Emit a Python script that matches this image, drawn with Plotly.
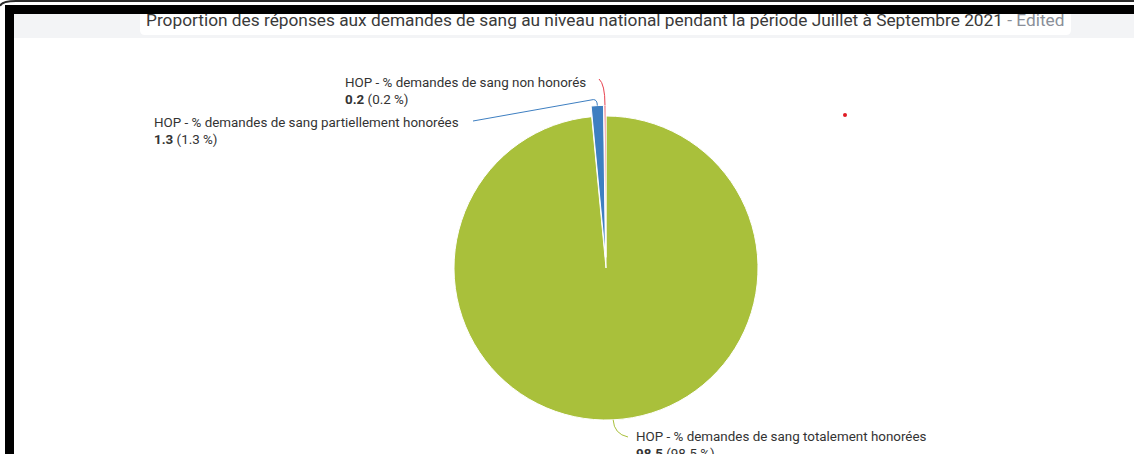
import numpy as np
import plotly.graph_objects as go

W, H = 1134, 454

# Data
labels = [
    "HOP - % demandes de sang totalement honorées",
    "HOP - % demandes de sang partiellement honorées",
    "HOP - % demandes de sang non honorés",
]
values = [98.5, 1.3, 0.2]
colors = ["#a9c03b", "#3e7fc1", "#e8414e"]
pulls = [0.0, 0.07, 0.07]

title_main = ("Proportion des réponses aux demandes de sang au niveau national "
              "pendant la période Juillet à Septembre 2021")
title_suffix = "- Edited"

# Pie geometry (pixels)
cx, cy, R = 606, 268, 152
max_pull = max(pulls)
half = R * (1 + max_pull)


def px(x):
    return x / W


def py(y):
    return 1 - y / H


fig = go.Figure()
fig.add_trace(go.Pie(
    labels=labels,
    values=values,
    sort=False,
    direction="clockwise",
    rotation=0,
    pull=pulls,
    textinfo="none",
    hoverinfo="label+value+percent",
    marker=dict(colors=colors, line=dict(color="white", width=1)),
    domain=dict(x=[px(cx - half), px(cx + half)], y=[py(cy + half), py(cy - half)]),
    showlegend=False,
))

# Slice mid-angle edge points (clockwise from 12 o'clock)
total = sum(values)
cum = np.cumsum(values)
edge = []
for v, c, p in zip(values, cum, pulls):
    th = np.deg2rad((c - v / 2) / total * 360)
    r = R * (1 + p)
    edge.append((cx + r * np.sin(th), cy - r * np.cos(th)))

# Label placement: (left x, vertical centre y, connector start, connector control)
label_pos = [
    (634, 445, (628, 437), (614, 434)),
    (152, 131, (473, 121), None),
    (343, 91, (599, 79), (605, 84)),
]

shapes = []
annotations = []
for i, (lab, v) in enumerate(zip(labels, values)):
    lx, ly, start, ctrl = label_pos[i]
    pct = v / total * 100
    annotations.append(dict(
        x=px(lx), y=py(ly), xref="paper", yref="paper",
        xanchor="left", yanchor="middle", align="left", showarrow=False,
        text=f"{lab}<br><b>{v:g}</b> ({pct:.1f} %)",
        font=dict(family="Roboto", size=13.4, color="#333333"),
    ))
    ex, ey = edge[i]
    if ctrl is None:
        # straight run then a small bend down onto the slice
        path = (f"M {px(start[0])},{py(start[1])} L {px(ex - 4)},{py(ey - 6)} "
                f"Q {px(ex)},{py(ey - 6)} {px(ex)},{py(ey)}")
    else:
        path = (f"M {px(start[0])},{py(start[1])} "
                f"Q {px(ctrl[0])},{py(ctrl[1])} {px(ex)},{py(ey)}")
    shapes.append(dict(type="path", path=path, xref="paper", yref="paper",
                       line=dict(color=colors[i], width=1)))

# Header band and title box
shapes.insert(0, dict(type="rect", xref="paper", yref="paper", layer="below",
                      x0=px(14), x1=px(W), y0=py(38), y1=py(14),
                      fillcolor="#f3f4f6", line=dict(width=0)))
bx0, bx1, by0, by1, rr = 140, 1071, 14, 35, 5
box = (f"M {px(bx0)},{py(by0)} L {px(bx1)},{py(by0)} L {px(bx1)},{py(by1 - rr)} "
       f"Q {px(bx1)},{py(by1)} {px(bx1 - rr)},{py(by1)} L {px(bx0 + rr)},{py(by1)} "
       f"Q {px(bx0)},{py(by1)} {px(bx0)},{py(by1 - rr)} Z")
shapes.insert(1, dict(type="path", path=box, xref="paper", yref="paper", layer="below",
                      fillcolor="white", line=dict(width=0)))

# Window frame
shapes += [
    dict(type="path", xref="paper", yref="paper",
         path=f"M 0,{py(6)} Q {px(2)},{py(1)} {px(16)},{py(1)} L {px(W)},{py(1)}",
         line=dict(color="#2a2a2a", width=2)),
    dict(type="rect", xref="paper", yref="paper", x0=px(5), x1=px(W), y0=py(14), y1=py(5),
         fillcolor="black", line=dict(width=0)),
    dict(type="rect", xref="paper", yref="paper", x0=px(5), x1=px(14), y0=0, y1=py(5),
         fillcolor="black", line=dict(width=0)),
    dict(type="circle", xref="paper", yref="paper", x0=px(843), x1=px(847), y0=py(117), y1=py(113),
         fillcolor="#e01b24", line=dict(width=0)),
]

annotations.append(dict(
    x=px(605), y=py(20), xref="paper", yref="paper", xanchor="center", yanchor="middle",
    showarrow=False,
    text=f"{title_main} <span style='color:#8a8f99'>{title_suffix}</span>",
    font=dict(family="Roboto", size=17.3, color="#3a3a3a"),
))

fig.update_layout(
    width=W, height=H,
    margin=dict(l=0, r=0, t=0, b=0),
    paper_bgcolor="white", plot_bgcolor="white",
    shapes=shapes, annotations=annotations,
)

fig.write_html("out.html")
